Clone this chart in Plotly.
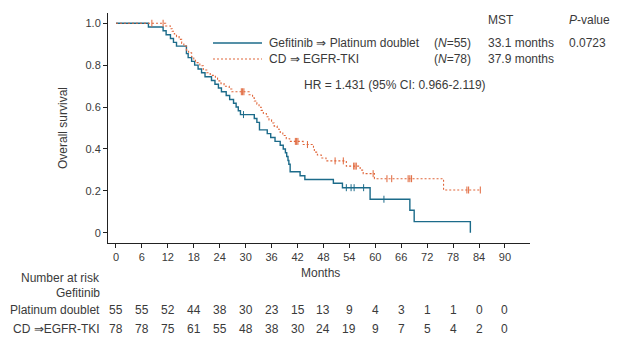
import plotly.graph_objects as go

# ---------------- data ----------------
month_ticks = [0, 6, 12, 18, 24, 30, 36, 42, 48, 54, 60, 66, 72, 78, 84, 90]
surv_ticks = [0, 0.2, 0.4, 0.6, 0.8, 1.0]
surv_ticktext = ["0", "0.2", "0.4", "0.6", "0.8", "1.0"]

# Gefitinib => Platinum doublet (Kaplan-Meier steps)
gef_t = [0, 7.5, 10.9, 11.6, 12.6, 13.3, 14.0, 16.3, 16.7, 17.5, 18.2, 19.0, 19.8, 20.6,
         22.1, 22.9, 23.7, 24.4, 25.5, 26.3, 27.2, 27.8, 28.3, 28.8, 32.0, 32.6, 33.2,
         35.0, 35.8, 36.8, 38.0, 38.7, 39.2, 39.5, 39.8, 40.0, 40.3, 42.6, 43.7, 50.3,
         52.4, 58.8, 68.0, 69.0, 82.0]
gef_s = [1.0, 0.982, 0.964, 0.945, 0.927, 0.909, 0.891, 0.855, 0.836, 0.818, 0.800, 0.782,
         0.764, 0.745, 0.727, 0.709, 0.691, 0.673, 0.655, 0.636, 0.618, 0.600, 0.582, 0.564,
         0.545, 0.527, 0.491, 0.473, 0.455, 0.436, 0.418, 0.400, 0.382, 0.364, 0.345, 0.327,
         0.291, 0.272, 0.254, 0.236, 0.215, 0.160, 0.107, 0.053, 0.0]
gef_cens_t = [29.5, 53.3, 54.4, 55.1, 57.3, 62.0]

# CD => EGFR-TKI (Kaplan-Meier steps)
cd_t = [0, 11.5, 12.6, 13.0, 13.5, 14.0, 14.6, 15.2, 15.7, 16.3, 16.8, 17.5, 18.0, 18.4,
        19.4, 20.2, 21.0, 21.8, 23.0, 23.5, 24.3, 25.0, 26.2, 26.8, 30.8, 31.6, 32.0, 32.6,
        33.1, 33.6, 34.1, 34.8, 35.4, 36.0, 36.6, 37.3, 38.0, 38.6, 39.4, 40.2, 43.3, 45.7,
        45.9, 46.6, 47.5, 48.6, 53.3, 56.5, 57.2, 59.8, 75.8, 84.3]
cd_s = [1.0, 0.987, 0.974, 0.962, 0.949, 0.936, 0.923, 0.904, 0.891, 0.872, 0.859, 0.840,
        0.827, 0.812, 0.797, 0.777, 0.764, 0.751, 0.738, 0.725, 0.712, 0.699, 0.686, 0.673,
        0.659, 0.644, 0.629, 0.614, 0.599, 0.584, 0.569, 0.554, 0.539, 0.524, 0.509, 0.494,
        0.479, 0.464, 0.449, 0.436, 0.421, 0.403, 0.385, 0.371, 0.357, 0.343, 0.318, 0.299,
        0.282, 0.258, 0.204, 0.204]
cd_cens_t = [8.3, 10.9, 29.0, 29.3, 29.6, 41.5, 41.8, 42.1, 44.3, 50.7, 52.6, 55.0, 55.3,
             55.6, 59.5, 62.7, 63.8, 67.6, 68.0, 68.4, 81.2, 81.6, 84.3]

# numbers at risk
risk_gef = [55, 55, 52, 44, 38, 30, 23, 15, 13, 9, 4, 3, 1, 1, 0, 0]
risk_cd = [78, 78, 75, 61, 55, 48, 38, 30, 24, 19, 9, 7, 5, 4, 2, 0]

# legend / statistics text
gef_label = "Gefitinib \u21d2 Platinum doublet"
cd_label = "CD \u21d2 EGFR-TKI"
gef_n = "(<i>N</i>=55)"
cd_n = "(<i>N</i>=78)"
gef_mst = "33.1 months"
cd_mst = "37.9 months"
p_value = "0.0723"
hr_text = "HR = 1.431 (95% CI: 0.966-2.119)"

# ---------------- styling ----------------
BLUE = "#1c6b8a"
ORANGE = "#e0663a"
TXT = "#3a3a3a"
FONT = "Liberation Sans, Arial, sans-serif"


def step_value(ts, ss, t):
    v = ss[0]
    for ti, si in zip(ts, ss):
        if ti <= t:
            v = si
    return v


gef_cens_s = [step_value(gef_t, gef_s, t) for t in gef_cens_t]
cd_cens_s = [step_value(cd_t, cd_s, t) for t in cd_cens_t]

fig = go.Figure()
fig.add_trace(go.Scatter(x=gef_t, y=gef_s, mode="lines", line_shape="hv",
                         line=dict(color=BLUE, width=1.4), showlegend=False, hoverinfo="skip"))
fig.add_trace(go.Scatter(x=gef_cens_t, y=gef_cens_s, mode="markers",
                         marker=dict(symbol="line-ns", size=5, line=dict(color=BLUE, width=1)),
                         showlegend=False, hoverinfo="skip"))
fig.add_trace(go.Scatter(x=cd_t, y=cd_s, mode="lines", line_shape="hv",
                         line=dict(color=ORANGE, width=1.1, dash="2px,2px"),
                         showlegend=False, hoverinfo="skip"))
fig.add_trace(go.Scatter(x=cd_cens_t, y=cd_cens_s, mode="markers",
                         marker=dict(symbol="line-ns", size=5, line=dict(color=ORANGE, width=1)),
                         showlegend=False, hoverinfo="skip"))

# plot area: x 108..530 px, y 13..243 px
L, R, T, B = 108, 530, 13, 243
W, H = 635, 346


def px(xpix):
    return (xpix - L) / (R - L)


def py(ypix):
    return (B - ypix) / (B - T)


ann = []
f = dict(family=FONT, size=12, color=TXT)
# header
ann.append(dict(x=px(486), y=py(20), text="MST", xanchor="left"))
ann.append(dict(x=px(567), y=py(20), text="<i>P</i>-value", xanchor="left"))
# rows
ann.append(dict(x=px(267), y=py(43), text=gef_label, xanchor="left"))
ann.append(dict(x=px(432), y=py(43), text=gef_n, xanchor="left"))
ann.append(dict(x=px(486), y=py(43), text=gef_mst, xanchor="left"))
ann.append(dict(x=px(567), y=py(43), text=p_value, xanchor="left"))
ann.append(dict(x=px(267), y=py(59), text=cd_label, xanchor="left"))
ann.append(dict(x=px(432), y=py(59), text=cd_n, xanchor="left"))
ann.append(dict(x=px(486), y=py(59), text=cd_mst, xanchor="left"))
ann.append(dict(x=px(302), y=py(85), text=hr_text, xanchor="left"))
# axis titles
ann.append(dict(x=px(320), y=py(273), text="Months", xanchor="center"))
ann.append(dict(x=px(63), y=py(128), text="Overall survival", xanchor="center", textangle=-90))
# number at risk
ann.append(dict(x=px(102), y=py(278), text="Number at risk", xanchor="right"))
ann.append(dict(x=px(102), y=py(293), text="Gefitinib", xanchor="right"))
ann.append(dict(x=px(102), y=py(310), text="Platinum doublet", xanchor="right"))
ann.append(dict(x=px(102), y=py(329), text="CD \u21d2EGFR-TKI", xanchor="right"))

for a in ann:
    a.update(xref="paper", yref="paper", yanchor="middle", showarrow=False, font=f)

for m, n1, n2 in zip(month_ticks, risk_gef, risk_cd):
    ann.append(dict(x=m, y=py(310), xref="x", yref="paper", text=str(n1), showarrow=False,
                    xanchor="center", yanchor="middle", font=f))
    ann.append(dict(x=m, y=py(329), xref="x", yref="paper", text=str(n2), showarrow=False,
                    xanchor="center", yanchor="middle", font=f))

shapes = [
    dict(type="line", xref="paper", yref="paper", x0=px(213), x1=px(262), y0=py(43), y1=py(43),
         line=dict(color=BLUE, width=1.4)),
    dict(type="line", xref="paper", yref="paper", x0=px(213), x1=px(262), y0=py(59), y1=py(59),
         line=dict(color=ORANGE, width=1.1, dash="2px,2px")),
]

fig.update_layout(
    width=W, height=H,
    margin=dict(l=L, r=W - R, t=T, b=H - B, pad=0),
    paper_bgcolor="white", plot_bgcolor="white",
    font=dict(family=FONT, size=12, color=TXT),
    annotations=ann, shapes=shapes,
    xaxis=dict(range=[-1.85, 95.8], tickvals=month_ticks, ticks="outside", ticklen=4,
               tickcolor="#222", showline=True, linecolor="#222", linewidth=1,
               showgrid=False, zeroline=False, tickfont=dict(size=11, color=TXT)),
    yaxis=dict(range=[-0.049, 1.049], tickvals=surv_ticks, ticktext=surv_ticktext,
               ticks="outside", ticklen=4, tickcolor="#222", showline=True, linecolor="#222",
               linewidth=1, showgrid=False, zeroline=False, tickfont=dict(size=11, color=TXT)),
)

fig.write_html("out.html")
